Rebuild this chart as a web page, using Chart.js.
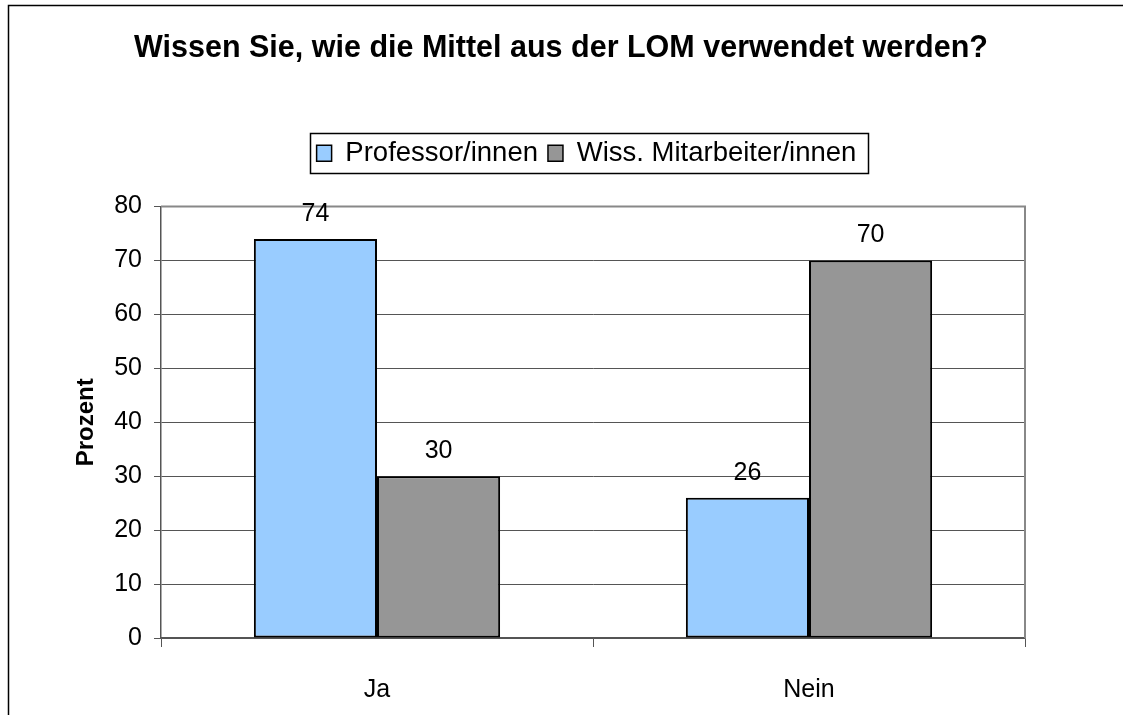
<!DOCTYPE html>
<html><head><meta charset="utf-8">
<script src="https://cdn.jsdelivr.net/npm/chart.js@4/dist/chart.umd.min.js"></script>
<style>html,body{margin:0;padding:0;background:#fff}#wrap{width:1123px;height:715px}</style>
</head><body><div id="wrap"><canvas id="c" width="1123" height="715"></canvas></div>
<script>
const categories = ["Ja", "Nein"];
const professoren = [74, 26];
const mitarbeiter = [30, 70];
const seriesNames = ["Professor/innen", "Wiss. Mitarbeiter/innen"];
const yTicks = [0, 10, 20, 30, 40, 50, 60, 70, 80];
const FONT = "'Liberation Sans', Arial, sans-serif";

const legendHeight = {
  id: 'legendHeight',
  beforeInit(chart) {
    const lg = chart.legend;
    const orig = lg.fit;
    lg.fit = function () { orig.call(this); this.height = 77; };
  },
  afterLayout(chart) {
    const tb = chart.titleBlock;
    tb.left = 0; tb.right = 1122; tb.width = 1122;
    const lg = chart.legend;
    lg.left = 148; lg.right = 1025; lg.width = 877;
  }
};

const decor = {
  id: 'decor',
  afterDraw(chart) {
    const ctx = chart.ctx, a = chart.chartArea;
    ctx.save();
    // outer frame
    ctx.strokeStyle = '#000'; ctx.lineWidth = 1.5;
    ctx.strokeRect(8.5, 5.5, 1130, 720);
    // plot border top/right
    ctx.strokeStyle = '#888'; ctx.lineWidth = 2;
    ctx.beginPath(); ctx.moveTo(a.left, a.top); ctx.lineTo(a.right, a.top); ctx.lineTo(a.right, a.bottom); ctx.stroke();
    // legend box
    const hb = chart.legend.legendHitBoxes;
    if (hb && hb.length) {
      const l = hb[0].left - 7;
      const last = hb[hb.length - 1];
      const r = last.left + last.width + 11;
      const cy = hb[0].top + hb[0].height / 2;
      ctx.strokeStyle = '#000'; ctx.lineWidth = 1.5;
      ctx.strokeRect(Math.round(l) + 0.5, Math.round(cy - 20) + 0.5, Math.round(r - l), 40);
    }
    // data labels
    ctx.fillStyle = '#000'; ctx.font = '25px ' + FONT; ctx.textAlign = 'center'; ctx.textBaseline = 'middle';
    chart.data.datasets.forEach((ds, i) => {
      chart.getDatasetMeta(i).data.forEach((bar, j) => {
        ctx.fillText(String(ds.data[j]), bar.x, bar.y - 25);
      });
    });
    ctx.restore();
  }
};

new Chart(document.getElementById('c'), {
  type: 'bar',
  data: {
    labels: categories,
    datasets: [
      { label: seriesNames[0], data: professoren, backgroundColor: '#99CCFF', borderColor: '#000', borderWidth: 2, borderSkipped: false },
      { label: seriesNames[1], data: mitarbeiter, backgroundColor: '#969696', borderColor: '#000', borderWidth: 2, borderSkipped: false }
    ]
  },
  options: {
    responsive: false,
    animation: false,
    layout: { padding: { left: 0, right: 98, top: 0, bottom: 0 } },
    datasets: { bar: { categoryPercentage: 0.57, barPercentage: 1.0 } },
    plugins: {
      title: { display: true, text: 'Wissen Sie, wie die Mittel aus der LOM verwendet werden?', color: '#000',
        font: { family: FONT, size: 30.5, weight: 'bold', lineHeight: 1.2 }, padding: { top: 30, bottom: 63 }, align: 'center' },
      legend: { display: true, position: 'top',
        labels: { color: '#000', font: { family: FONT, size: 27.5 }, boxWidth: 15, boxHeight: 16, padding: 10,
          generateLabels(chart) {
            return chart.data.datasets.map((ds, i) => ({ text: ds.label, fillStyle: ds.backgroundColor, strokeStyle: '#000', lineWidth: 1.5, datasetIndex: i }));
          } } },
      tooltip: { enabled: false }
    },
    scales: {
      x: {
        grid: { display: true, drawOnChartArea: false, drawTicks: true, tickLength: 9, color: '#555', offset: true },
        border: { display: true, color: '#555', width: 1.5 },
        ticks: { color: '#000', font: { family: FONT, size: 25 }, padding: 28 },
        afterFit(s) { s.height = 77; }
      },
      y: {
        min: 0, max: 80,
        afterBuildTicks(s) { s.ticks = yTicks.map(v => ({ value: v })); },
        grid: { color: '#555', lineWidth: 1, drawTicks: true, tickLength: 7 },
        border: { display: true, color: '#555', width: 1.5 },
        ticks: { color: '#000', font: { family: FONT, size: 25 }, padding: 12 },
        title: { display: true, text: 'Prozent', color: '#000', font: { family: FONT, size: 24, weight: 'bold', lineHeight: 1.2 }, padding: { top: 72, bottom: 0 } },
        afterFit(s) { s.width = 161; }
      }
    }
  },
  plugins: [legendHeight, decor]
});
</script></body></html>
